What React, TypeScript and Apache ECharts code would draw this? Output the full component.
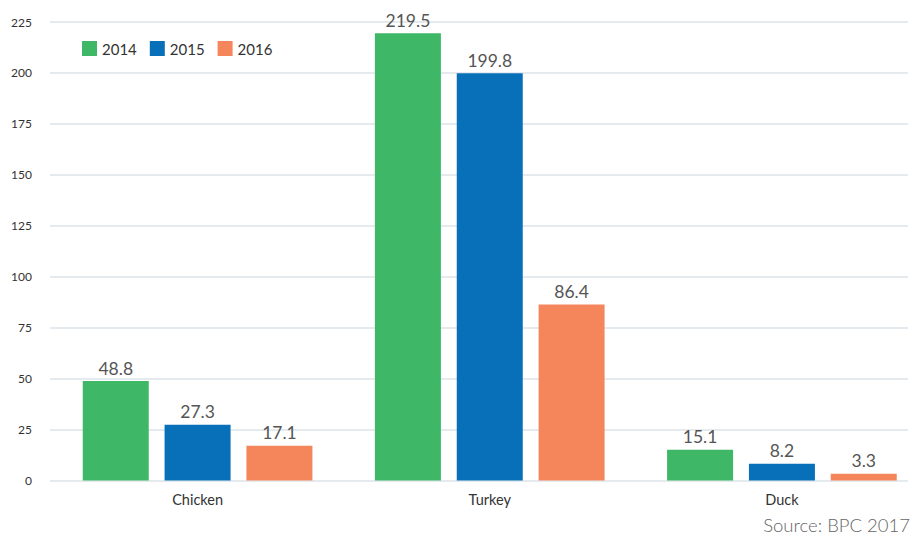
import React, { useEffect, useRef } from "react";
import * as echarts from "echarts";

const categories = ["Chicken", "Turkey", "Duck"];
const years = ["2014", "2015", "2016"];
const values2014 = [48.8, 219.5, 15.1];
const values2015 = [27.3, 199.8, 8.2];
const values2016 = [17.1, 86.4, 3.3];
const colors = ["#3eb867", "#0870b8", "#f5855a"];
const sourceText = "Source: BPC 2017";

export default function App() {
  const ref = useRef<HTMLDivElement>(null);
  useEffect(() => {
    if (!ref.current) return;
    const chart = echarts.init(ref.current, undefined, { renderer: "svg" });
    const font = "Lato, 'Open Sans', sans-serif";
    const seriesData = [values2014, values2015, values2016];
    chart.setOption({
      animation: false,
      backgroundColor: "#ffffff",
      textStyle: { fontFamily: font },
      legend: {
        left: 77,
        top: 36,
        itemWidth: 15,
        itemHeight: 15,
        itemGap: 13,
        icon: "rect",
        textStyle: { fontSize: 15, color: "#333", fontFamily: font },
        data: years,
      },
      grid: [
        { left: 51.5, width: 876.5, top: 22, bottom: 55.5 },
        { left: 50, right: 32, top: 22, bottom: 55.5 },
      ],
      xAxis: [
        {
          type: "category",
          gridIndex: 0,
          data: categories,
          axisLine: { show: false },
          axisTick: { show: false },
          axisLabel: { fontSize: 14.5, color: "#333", margin: 11, fontFamily: font },
        },
        {
          type: "category",
          gridIndex: 1,
          data: categories,
          axisLine: { show: false },
          axisTick: { show: false },
          axisLabel: { show: false },
        },
      ],
      yAxis: [
        {
          type: "value",
          gridIndex: 0,
          min: 0,
          max: 225,
          interval: 25,
          axisLabel: { show: false },
          splitLine: { show: false },
          axisLine: { show: false },
          axisTick: { show: false },
        },
        {
          type: "value",
          gridIndex: 1,
          min: 0,
          max: 225,
          interval: 25,
          axisLabel: { fontSize: 12, color: "#333", margin: 18, fontFamily: font },
          splitLine: { show: true, lineStyle: { color: "#dde3ea", width: 1.5 } },
          axisLine: { show: false },
          axisTick: { show: false },
        },
      ],
      series: years.map((y, i) => ({
        name: y,
        type: "bar",
        xAxisIndex: 0,
        yAxisIndex: 0,
        data: seriesData[i],
        barWidth: 66,
        barGap: "24%",
        itemStyle: { color: colors[i] },
        label: {
          show: true,
          position: "top",
          distance: 4,
          fontSize: 17.5,
          color: "#555",
          fontFamily: font,
        },
      })),
      graphic: [
        {
          type: "text",
          right: 30,
          bottom: 2,
          style: {
            text: sourceText,
            fontSize: 18.5,
            fill: "#666",
            fontFamily: font,
            fontWeight: 300,
          },
        },
      ],
    });
    return () => chart.dispose();
  }, []);
  return (
    <div
      style={{
        position: "fixed",
        left: 0,
        top: 0,
        width: 919,
        height: 536,
        overflow: "hidden",
        background: "#fff",
      }}
    >
      <div ref={ref} style={{ width: 940, height: 536 }} />
    </div>
  );
}
